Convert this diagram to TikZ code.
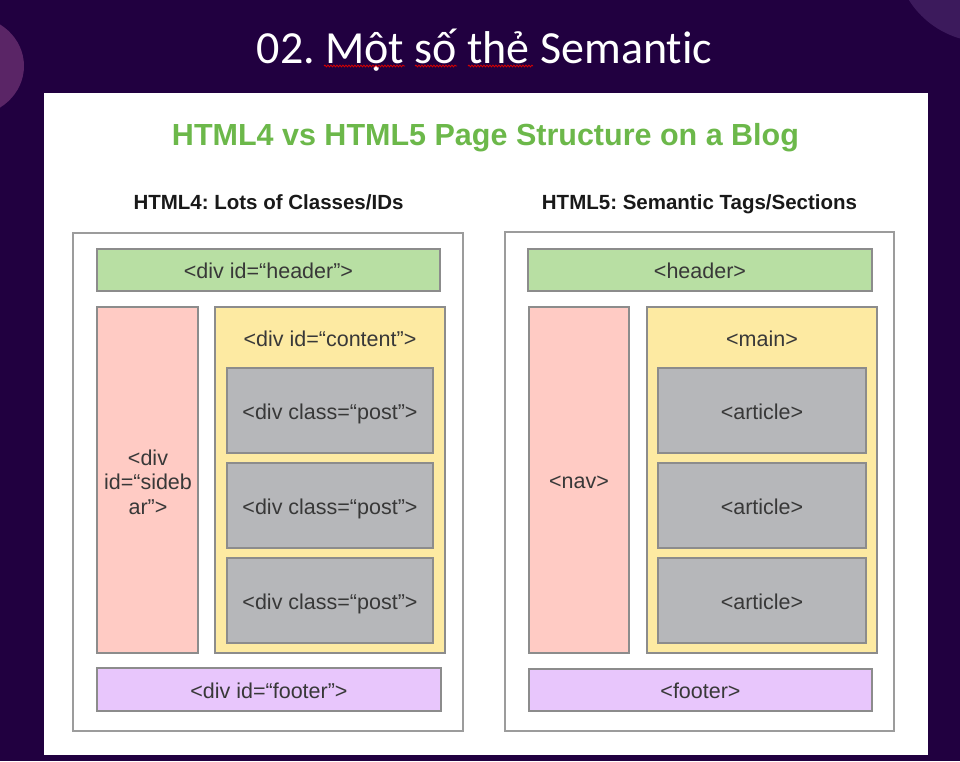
\documentclass[tikz,border=0pt]{standalone}
\usepackage{fontspec}
\setmainfont{Liberation Sans}
\newfontfamily\slidefont[Ligatures=NoCommon]{Carlito}
\usetikzlibrary{decorations.pathmorphing}
\frenchspacing

\definecolor{slidebg}{HTML}{210040}
\definecolor{blobleft}{HTML}{5A2566}
\definecolor{blobright}{HTML}{3C1A5C}
\definecolor{headgreen}{HTML}{6CB84A}
\definecolor{outline}{HTML}{8C8C8C}
\definecolor{frameline}{HTML}{9C9C9C}
\definecolor{labelgray}{HTML}{383838}
\definecolor{hdrfill}{HTML}{B8DFA3}
\definecolor{sidefill}{HTML}{FFCBC4}
\definecolor{mainfill}{HTML}{FDEAA2}
\definecolor{postfill}{HTML}{B6B7BA}
\definecolor{footfill}{HTML}{E8C6FC}

\tikzset{
  frame/.style={draw=outline, line width=1.3pt, inner sep=0pt},
  lbl/.style={font=\fontsize{21.5}{25}\selectfont, text=labelgray},
  block/.style={frame, lbl, text height=17pt, text depth=0pt},
  pagebox/.style={draw=frameline, line width=1.3pt, fill=white, inner sep=0pt},
  subhead/.style={font=\bfseries\fontsize{20.5}{24}\selectfont, text=black!90, anchor=base},
  spell/.style={draw=red!85!black, line width=0.8pt,
    decorate, decoration={snake, amplitude=0.9pt, segment length=3pt}},
}

\begin{document}
\begin{tikzpicture}[x=1pt,y=-1pt]
  \useasboundingbox (0,0) rectangle (960,761);
  \clip (0,0) rectangle (960,761);

  % slide background and corner ornaments
  \fill[slidebg] (0,0) rectangle (960,761);
  \fill[blobleft] (-30,66) ellipse [x radius=54, y radius=50];
  \fill[blobright] (985,-48) circle [radius=90];

  % slide title
  \node[font=\slidefont\fontsize{46}{52}\selectfont, text=white, anchor=base]
    (title) at (484.5,63) {02. Một số thẻ Semantic};
  \draw[spell] (324,66) -- (405,66);
  \draw[spell] (415,66) -- (457,66);
  \draw[spell] (468,66) -- (533,66);

  % white sheet
  \fill[white] (44,93) rectangle (928,755);

  \node[font=\bfseries\fontsize{30.5}{34}\selectfont, text=headgreen, anchor=base]
    (heading) at (485.5,145) {HTML4 vs HTML5 Page Structure on a Blog};

  \node[subhead] (subL) at (268.5,209) {HTML4: Lots of Classes/IDs};
  \node[subhead] (subR) at (699.5,209) {HTML5: Semantic Tags/Sections};

  % ---------------- HTML4 layout ----------------
  \node[pagebox, minimum width=390pt, minimum height=498pt] (pageL) at (268,482) {};
  \node[block, fill=hdrfill, minimum width=343pt, minimum height=42pt]
    (hdrL) at (268.5,270) {<div id=“header”>};
  \node[frame, fill=sidefill, minimum width=101pt, minimum height=346pt]
    (sideL) at (147.5,480) {};
  \node[lbl, anchor=base] (sb1) at (148,465) {<div};
  \node[lbl, anchor=base] (sb2) at (148,489.5) {id=“sideb};
  \node[lbl, anchor=base] (sb3) at (148,514) {ar”>};
  \node[frame, fill=mainfill, minimum width=230pt, minimum height=346pt]
    (contL) at (330,480) {};
  \node[lbl, anchor=base] (contLbl) at (330,346) {<div id=“content”>};
  \node[block, fill=postfill, minimum width=206pt, minimum height=85pt]
    (post1) at (330,410.5) {<div class=“post”>};
  \node[block, fill=postfill, minimum width=206pt, minimum height=85pt]
    (post2) at (330,505.5) {<div class=“post”>};
  \node[block, fill=postfill, minimum width=206pt, minimum height=85pt]
    (post3) at (330,600.5) {<div class=“post”>};
  \node[block, fill=footfill, minimum width=344pt, minimum height=43pt]
    (footL) at (269,689.5) {<div id=“footer”>};

  % ---------------- HTML5 layout ----------------
  \node[pagebox, minimum width=389pt, minimum height=499pt] (pageR) at (699.5,481.5) {};
  \node[block, fill=hdrfill, minimum width=344pt, minimum height=42pt]
    (hdrR) at (700,270) {<header>};
  \node[block, fill=sidefill, minimum width=100pt, minimum height=346pt]
    (navR) at (579,480) {<nav>};
  \node[frame, fill=mainfill, minimum width=230pt, minimum height=346pt]
    (mainR) at (762,480) {};
  \node[lbl, anchor=base] (mainLbl) at (762,346) {<main>};
  \node[block, fill=postfill, minimum width=208pt, minimum height=85pt]
    (art1) at (762,410.5) {<article>};
  \node[block, fill=postfill, minimum width=208pt, minimum height=85pt]
    (art2) at (762,505.5) {<article>};
  \node[block, fill=postfill, minimum width=208pt, minimum height=85pt]
    (art3) at (762,600.5) {<article>};
  \node[block, fill=footfill, minimum width=343pt, minimum height=42pt]
    (footR) at (700.5,690) {<footer>};
\end{tikzpicture}
\end{document}
